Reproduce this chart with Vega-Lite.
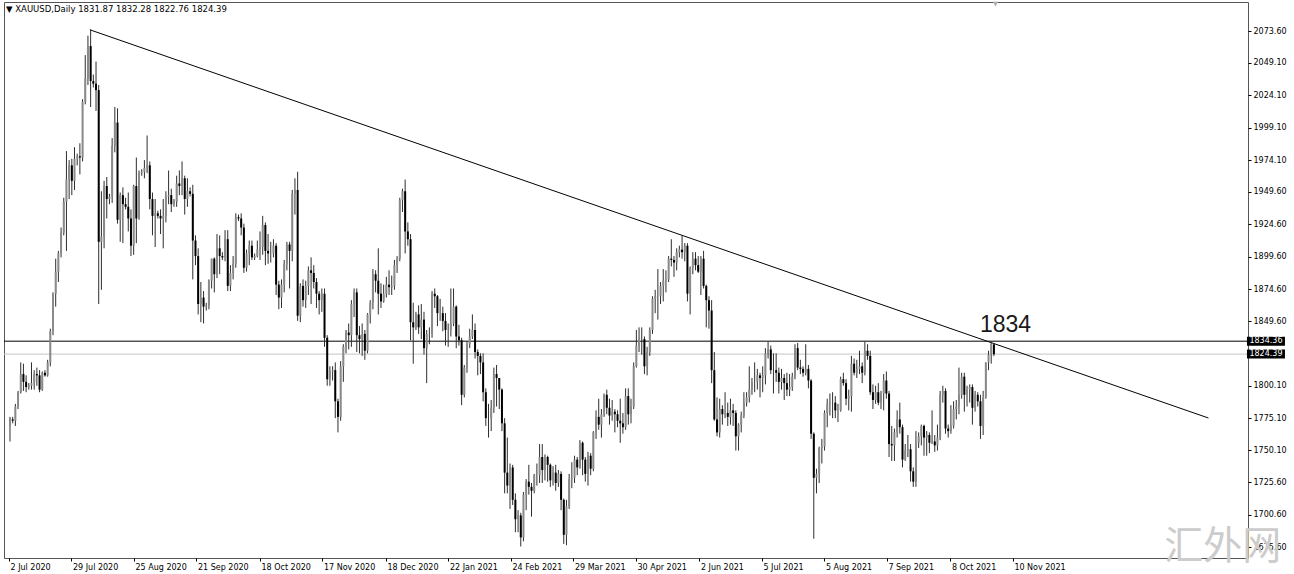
{
  "$schema": "https://vega.github.io/schema/vega-lite/v6.json",
  "width": 1244,
  "height": 556,
  "autosize": {"type": "none"},
  "padding": {"left": 4, "top": 2, "right": 46, "bottom": 16},
  "background": "white",
  "config": {"view": {"stroke": "#555555", "strokeWidth": 1}, "font": "DejaVu Sans"},
  "title": {"text": "▼ XAUUSD,Daily  1831.87 1832.28 1822.76 1824.39", "anchor": "start", "frame": "group", "orient": "top", "offset": -12, "dx": 2, "fontSize": 8.5, "fontWeight": "normal", "font": "DejaVu Sans", "color": "#000000"},
  "resolve": {"axis": {"x": "independent", "y": "independent"}},
  "datasets": {
    "bars": [
{"i":0,"o":1769,"h":1776,"l":1757,"c":1775},
{"i":1,"o":1774,"h":1776,"l":1771,"c":1773},
{"i":2,"o":1773,"h":1786,"l":1769,"c":1784},
{"i":3,"o":1784,"h":1796,"l":1782,"c":1795},
{"i":4,"o":1795,"h":1818,"l":1794,"c":1809},
{"i":5,"o":1809,"h":1817,"l":1796,"c":1803},
{"i":6,"o":1803,"h":1808,"l":1795,"c":1799},
{"i":7,"o":1799,"h":1802,"l":1797,"c":1800},
{"i":8,"o":1800,"h":1818,"l":1797,"c":1802},
{"i":9,"o":1802,"h":1812,"l":1797,"c":1809},
{"i":10,"o":1809,"h":1814,"l":1800,"c":1808},
{"i":11,"o":1808,"h":1812,"l":1795,"c":1797},
{"i":12,"o":1797,"h":1811,"l":1796,"c":1810},
{"i":13,"o":1810,"h":1812,"l":1807,"c":1808},
{"i":14,"o":1808,"h":1820,"l":1807,"c":1818},
{"i":15,"o":1818,"h":1844,"l":1815,"c":1842},
{"i":16,"o":1842,"h":1872,"l":1839,"c":1871},
{"i":17,"o":1871,"h":1898,"l":1861,"c":1888},
{"i":18,"o":1888,"h":1904,"l":1880,"c":1902},
{"i":19,"o":1902,"h":1922,"l":1899,"c":1918},
{"i":20,"o":1918,"h":1945,"l":1916,"c":1942},
{"i":21,"o":1942,"h":1981,"l":1904,"c":1959},
{"i":22,"o":1959,"h":1974,"l":1944,"c":1970},
{"i":23,"o":1970,"h":1975,"l":1947,"c":1958},
{"i":24,"o":1958,"h":1984,"l":1951,"c":1975},
{"i":25,"o":1975,"h":1979,"l":1970,"c":1977},
{"i":26,"o":1977,"h":1987,"l":1963,"c":1976},
{"i":27,"o":1976,"h":2021,"l":1973,"c":2019},
{"i":28,"o":2019,"h":2055,"l":2017,"c":2037},
{"i":29,"o":2037,"h":2070,"l":2032,"c":2062},
{"i":30,"o":2062,"h":2075,"l":2015,"c":2035},
{"i":31,"o":2035,"h":2040,"l":2030,"c":2033},
{"i":32,"o":2033,"h":2050,"l":2012,"c":2028},
{"i":33,"o":2028,"h":2032,"l":1863,"c":1911},
{"i":34,"o":1911,"h":1950,"l":1874,"c":1915},
{"i":35,"o":1915,"h":1958,"l":1906,"c":1954},
{"i":36,"o":1954,"h":1961,"l":1929,"c":1944},
{"i":37,"o":1944,"h":1948,"l":1940,"c":1946},
{"i":38,"o":1946,"h":1991,"l":1941,"c":1985},
{"i":39,"o":1985,"h":2015,"l":1980,"c":2003},
{"i":40,"o":2003,"h":2014,"l":1925,"c":1928},
{"i":41,"o":1928,"h":1949,"l":1911,"c":1947},
{"i":42,"o":1947,"h":1953,"l":1910,"c":1940},
{"i":43,"o":1940,"h":1945,"l":1936,"c":1938},
{"i":44,"o":1938,"h":1949,"l":1919,"c":1929},
{"i":45,"o":1929,"h":1936,"l":1900,"c":1908},
{"i":46,"o":1908,"h":1955,"l":1901,"c":1954},
{"i":47,"o":1954,"h":1976,"l":1910,"c":1929},
{"i":48,"o":1929,"h":1966,"l":1928,"c":1964},
{"i":49,"o":1964,"h":1967,"l":1962,"c":1965},
{"i":50,"o":1965,"h":1974,"l":1960,"c":1968},
{"i":51,"o":1968,"h":1993,"l":1964,"c":1970},
{"i":52,"o":1970,"h":1973,"l":1936,"c":1944},
{"i":53,"o":1944,"h":1949,"l":1916,"c":1931},
{"i":54,"o":1931,"h":1944,"l":1907,"c":1933},
{"i":55,"o":1933,"h":1935,"l":1929,"c":1931},
{"i":56,"o":1931,"h":1936,"l":1917,"c":1929},
{"i":57,"o":1929,"h":1944,"l":1906,"c":1931},
{"i":58,"o":1931,"h":1950,"l":1926,"c":1946},
{"i":59,"o":1946,"h":1966,"l":1940,"c":1947},
{"i":60,"o":1947,"h":1952,"l":1934,"c":1940},
{"i":61,"o":1940,"h":1944,"l":1938,"c":1942},
{"i":62,"o":1942,"h":1962,"l":1938,"c":1956},
{"i":63,"o":1956,"h":1966,"l":1947,"c":1954},
{"i":64,"o":1954,"h":1973,"l":1947,"c":1960},
{"i":65,"o":1960,"h":1962,"l":1932,"c":1944},
{"i":66,"o":1944,"h":1960,"l":1938,"c":1950},
{"i":67,"o":1950,"h":1953,"l":1946,"c":1948},
{"i":68,"o":1948,"h":1955,"l":1882,"c":1912},
{"i":69,"o":1912,"h":1916,"l":1893,"c":1900},
{"i":70,"o":1900,"h":1906,"l":1855,"c":1863},
{"i":71,"o":1863,"h":1880,"l":1849,"c":1868},
{"i":72,"o":1868,"h":1873,"l":1848,"c":1861},
{"i":73,"o":1861,"h":1864,"l":1858,"c":1862},
{"i":74,"o":1862,"h":1882,"l":1859,"c":1881},
{"i":75,"o":1881,"h":1898,"l":1875,"c":1898},
{"i":76,"o":1898,"h":1899,"l":1872,"c":1886},
{"i":77,"o":1886,"h":1917,"l":1883,"c":1906},
{"i":78,"o":1906,"h":1916,"l":1886,"c":1900},
{"i":79,"o":1900,"h":1903,"l":1897,"c":1899},
{"i":80,"o":1899,"h":1920,"l":1896,"c":1913},
{"i":81,"o":1913,"h":1920,"l":1873,"c":1877},
{"i":82,"o":1877,"h":1893,"l":1873,"c":1887},
{"i":83,"o":1887,"h":1900,"l":1882,"c":1894},
{"i":84,"o":1894,"h":1933,"l":1891,"c":1930},
{"i":85,"o":1930,"h":1932,"l":1927,"c":1929},
{"i":86,"o":1929,"h":1933,"l":1916,"c":1922},
{"i":87,"o":1922,"h":1925,"l":1887,"c":1891},
{"i":88,"o":1891,"h":1905,"l":1888,"c":1902},
{"i":89,"o":1902,"h":1912,"l":1893,"c":1908},
{"i":90,"o":1908,"h":1912,"l":1897,"c":1899},
{"i":91,"o":1899,"h":1902,"l":1897,"c":1900},
{"i":92,"o":1900,"h":1912,"l":1899,"c":1905},
{"i":93,"o":1905,"h":1919,"l":1897,"c":1907},
{"i":94,"o":1907,"h":1931,"l":1901,"c":1924},
{"i":95,"o":1924,"h":1926,"l":1893,"c":1904},
{"i":96,"o":1904,"h":1917,"l":1894,"c":1902},
{"i":97,"o":1902,"h":1911,"l":1895,"c":1902},
{"i":98,"o":1902,"h":1913,"l":1899,"c":1908},
{"i":99,"o":1908,"h":1910,"l":1870,"c":1878},
{"i":100,"o":1878,"h":1881,"l":1859,"c":1868},
{"i":101,"o":1868,"h":1882,"l":1860,"c":1878},
{"i":102,"o":1878,"h":1897,"l":1872,"c":1894},
{"i":103,"o":1894,"h":1911,"l":1889,"c":1909},
{"i":104,"o":1909,"h":1911,"l":1875,"c":1904},
{"i":105,"o":1904,"h":1951,"l":1896,"c":1948},
{"i":106,"o":1948,"h":1960,"l":1932,"c":1951},
{"i":107,"o":1951,"h":1965,"l":1850,"c":1854},
{"i":108,"o":1854,"h":1879,"l":1849,"c":1877},
{"i":109,"o":1877,"h":1882,"l":1861,"c":1866},
{"i":110,"o":1866,"h":1881,"l":1860,"c":1877},
{"i":111,"o":1877,"h":1892,"l":1870,"c":1889},
{"i":112,"o":1889,"h":1899,"l":1863,"c":1887},
{"i":113,"o":1887,"h":1893,"l":1875,"c":1880},
{"i":114,"o":1880,"h":1883,"l":1860,"c":1871},
{"i":115,"o":1871,"h":1873,"l":1855,"c":1866},
{"i":116,"o":1866,"h":1875,"l":1857,"c":1871},
{"i":117,"o":1871,"h":1875,"l":1830,"c":1837},
{"i":118,"o":1837,"h":1839,"l":1800,"c":1805},
{"i":119,"o":1805,"h":1815,"l":1800,"c":1811},
{"i":120,"o":1811,"h":1815,"l":1804,"c":1812},
{"i":121,"o":1812,"h":1818,"l":1775,"c":1788},
{"i":122,"o":1788,"h":1790,"l":1764,"c":1776},
{"i":123,"o":1776,"h":1819,"l":1773,"c":1815},
{"i":124,"o":1815,"h":1832,"l":1803,"c":1830},
{"i":125,"o":1830,"h":1843,"l":1825,"c":1841},
{"i":126,"o":1841,"h":1848,"l":1828,"c":1839},
{"i":127,"o":1839,"h":1866,"l":1830,"c":1863},
{"i":128,"o":1863,"h":1875,"l":1853,"c":1872},
{"i":129,"o":1872,"h":1875,"l":1826,"c":1839},
{"i":130,"o":1839,"h":1846,"l":1825,"c":1836},
{"i":131,"o":1836,"h":1848,"l":1823,"c":1840},
{"i":132,"o":1840,"h":1843,"l":1820,"c":1827},
{"i":133,"o":1827,"h":1856,"l":1825,"c":1855},
{"i":134,"o":1855,"h":1866,"l":1848,"c":1864},
{"i":135,"o":1864,"h":1890,"l":1859,"c":1886},
{"i":136,"o":1886,"h":1889,"l":1872,"c":1881},
{"i":137,"o":1881,"h":1906,"l":1855,"c":1871},
{"i":138,"o":1871,"h":1879,"l":1860,"c":1865},
{"i":139,"o":1865,"h":1878,"l":1864,"c":1871},
{"i":140,"o":1871,"h":1884,"l":1868,"c":1878},
{"i":141,"o":1878,"h":1889,"l":1870,"c":1876},
{"i":142,"o":1876,"h":1885,"l":1870,"c":1877},
{"i":143,"o":1877,"h":1897,"l":1874,"c":1893},
{"i":144,"o":1893,"h":1900,"l":1887,"c":1898},
{"i":145,"o":1898,"h":1945,"l":1896,"c":1943},
{"i":146,"o":1943,"h":1952,"l":1934,"c":1950},
{"i":147,"o":1950,"h":1959,"l":1902,"c":1919},
{"i":148,"o":1919,"h":1926,"l":1908,"c":1913},
{"i":149,"o":1913,"h":1917,"l":1835,"c":1849},
{"i":150,"o":1849,"h":1864,"l":1817,"c":1845},
{"i":151,"o":1845,"h":1857,"l":1843,"c":1855},
{"i":152,"o":1855,"h":1862,"l":1840,"c":1845},
{"i":153,"o":1845,"h":1863,"l":1836,"c":1851},
{"i":154,"o":1851,"h":1857,"l":1824,"c":1829},
{"i":155,"o":1829,"h":1843,"l":1802,"c":1840},
{"i":156,"o":1840,"h":1845,"l":1832,"c":1840},
{"i":157,"o":1840,"h":1873,"l":1837,"c":1871},
{"i":158,"o":1871,"h":1875,"l":1860,"c":1869},
{"i":159,"o":1869,"h":1870,"l":1846,"c":1856},
{"i":160,"o":1856,"h":1867,"l":1850,"c":1856},
{"i":161,"o":1856,"h":1861,"l":1842,"c":1850},
{"i":162,"o":1850,"h":1856,"l":1831,"c":1843},
{"i":163,"o":1843,"h":1848,"l":1830,"c":1843},
{"i":164,"o":1843,"h":1875,"l":1838,"c":1848},
{"i":165,"o":1848,"h":1875,"l":1846,"c":1861},
{"i":166,"o":1861,"h":1862,"l":1829,"c":1838},
{"i":167,"o":1838,"h":1847,"l":1831,"c":1835},
{"i":168,"o":1835,"h":1837,"l":1785,"c":1793},
{"i":169,"o":1793,"h":1816,"l":1791,"c":1814},
{"i":170,"o":1814,"h":1834,"l":1810,"c":1832},
{"i":171,"o":1832,"h":1844,"l":1829,"c":1838},
{"i":172,"o":1838,"h":1855,"l":1836,"c":1843},
{"i":173,"o":1843,"h":1848,"l":1821,"c":1826},
{"i":174,"o":1826,"h":1828,"l":1808,"c":1823},
{"i":175,"o":1823,"h":1825,"l":1809,"c":1818},
{"i":176,"o":1818,"h":1825,"l":1788,"c":1795},
{"i":177,"o":1795,"h":1798,"l":1769,"c":1775},
{"i":178,"o":1775,"h":1786,"l":1760,"c":1775},
{"i":179,"o":1775,"h":1789,"l":1765,"c":1783},
{"i":180,"o":1783,"h":1814,"l":1779,"c":1809},
{"i":181,"o":1809,"h":1816,"l":1784,"c":1806},
{"i":182,"o":1806,"h":1806,"l":1782,"c":1797},
{"i":183,"o":1797,"h":1798,"l":1765,"c":1771},
{"i":184,"o":1771,"h":1775,"l":1717,"c":1733},
{"i":185,"o":1733,"h":1760,"l":1717,"c":1723},
{"i":186,"o":1723,"h":1740,"l":1705,"c":1737},
{"i":187,"o":1737,"h":1739,"l":1708,"c":1712},
{"i":188,"o":1712,"h":1717,"l":1687,"c":1697},
{"i":189,"o":1697,"h":1704,"l":1687,"c":1700},
{"i":190,"o":1700,"h":1702,"l":1676,"c":1683},
{"i":191,"o":1683,"h":1718,"l":1680,"c":1716},
{"i":192,"o":1716,"h":1728,"l":1704,"c":1726},
{"i":193,"o":1726,"h":1739,"l":1716,"c":1722},
{"i":194,"o":1722,"h":1725,"l":1699,"c":1719},
{"i":195,"o":1719,"h":1732,"l":1717,"c":1731},
{"i":196,"o":1731,"h":1740,"l":1723,"c":1731},
{"i":197,"o":1731,"h":1755,"l":1725,"c":1745},
{"i":198,"o":1745,"h":1755,"l":1725,"c":1735},
{"i":199,"o":1735,"h":1747,"l":1727,"c":1745},
{"i":200,"o":1745,"h":1746,"l":1726,"c":1739},
{"i":201,"o":1739,"h":1740,"l":1722,"c":1727},
{"i":202,"o":1727,"h":1738,"l":1723,"c":1733},
{"i":203,"o":1733,"h":1739,"l":1719,"c":1725},
{"i":204,"o":1725,"h":1735,"l":1722,"c":1732},
{"i":205,"o":1732,"h":1734,"l":1704,"c":1712},
{"i":206,"o":1712,"h":1713,"l":1678,"c":1685},
{"i":207,"o":1685,"h":1712,"l":1677,"c":1707},
{"i":208,"o":1707,"h":1732,"l":1705,"c":1728},
{"i":209,"o":1728,"h":1741,"l":1721,"c":1729},
{"i":210,"o":1729,"h":1746,"l":1725,"c":1743},
{"i":211,"o":1743,"h":1745,"l":1731,"c":1737},
{"i":212,"o":1737,"h":1758,"l":1736,"c":1756},
{"i":213,"o":1756,"h":1757,"l":1731,"c":1743},
{"i":214,"o":1743,"h":1745,"l":1726,"c":1732},
{"i":215,"o":1732,"h":1749,"l":1723,"c":1746},
{"i":216,"o":1746,"h":1748,"l":1731,"c":1736},
{"i":217,"o":1736,"h":1765,"l":1734,"c":1764},
{"i":218,"o":1764,"h":1781,"l":1759,"c":1776},
{"i":219,"o":1776,"h":1790,"l":1766,"c":1770},
{"i":220,"o":1770,"h":1782,"l":1760,"c":1778},
{"i":221,"o":1778,"h":1794,"l":1776,"c":1793},
{"i":222,"o":1793,"h":1797,"l":1778,"c":1783},
{"i":223,"o":1783,"h":1790,"l":1770,"c":1777},
{"i":224,"o":1777,"h":1789,"l":1773,"c":1780},
{"i":225,"o":1780,"h":1782,"l":1764,"c":1778},
{"i":226,"o":1778,"h":1781,"l":1768,"c":1773},
{"i":227,"o":1773,"h":1790,"l":1756,"c":1771},
{"i":228,"o":1771,"h":1779,"l":1763,"c":1768},
{"i":229,"o":1768,"h":1798,"l":1766,"c":1792},
{"i":230,"o":1792,"h":1798,"l":1770,"c":1778},
{"i":231,"o":1778,"h":1790,"l":1771,"c":1784},
{"i":232,"o":1784,"h":1818,"l":1782,"c":1815},
{"i":233,"o":1815,"h":1843,"l":1814,"c":1831},
{"i":234,"o":1831,"h":1845,"l":1826,"c":1836},
{"i":235,"o":1836,"h":1845,"l":1824,"c":1836},
{"i":236,"o":1836,"h":1838,"l":1809,"c":1815},
{"i":237,"o":1815,"h":1830,"l":1808,"c":1826},
{"i":238,"o":1826,"h":1845,"l":1823,"c":1843},
{"i":239,"o":1843,"h":1869,"l":1840,"c":1867},
{"i":240,"o":1867,"h":1874,"l":1856,"c":1869},
{"i":241,"o":1869,"h":1890,"l":1851,"c":1869},
{"i":242,"o":1869,"h":1880,"l":1863,"c":1877},
{"i":243,"o":1877,"h":1890,"l":1865,"c":1881},
{"i":244,"o":1881,"h":1889,"l":1872,"c":1882},
{"i":245,"o":1882,"h":1900,"l":1880,"c":1898},
{"i":246,"o":1898,"h":1913,"l":1892,"c":1897},
{"i":247,"o":1897,"h":1900,"l":1884,"c":1895},
{"i":248,"o":1895,"h":1906,"l":1889,"c":1903},
{"i":249,"o":1903,"h":1908,"l":1899,"c":1905},
{"i":250,"o":1905,"h":1916,"l":1898,"c":1903},
{"i":251,"o":1903,"h":1910,"l":1896,"c":1908},
{"i":252,"o":1908,"h":1910,"l":1865,"c":1871},
{"i":253,"o":1871,"h":1892,"l":1855,"c":1891},
{"i":254,"o":1891,"h":1903,"l":1886,"c":1898},
{"i":255,"o":1898,"h":1903,"l":1889,"c":1893},
{"i":256,"o":1893,"h":1900,"l":1887,"c":1888},
{"i":257,"o":1888,"h":1900,"l":1870,"c":1898},
{"i":258,"o":1898,"h":1904,"l":1875,"c":1877},
{"i":259,"o":1877,"h":1878,"l":1845,"c":1866},
{"i":260,"o":1866,"h":1869,"l":1844,"c":1858},
{"i":261,"o":1858,"h":1866,"l":1802,"c":1812},
{"i":262,"o":1812,"h":1826,"l":1773,"c":1774},
{"i":263,"o":1774,"h":1791,"l":1761,"c":1764},
{"i":264,"o":1764,"h":1790,"l":1760,"c":1782},
{"i":265,"o":1782,"h":1785,"l":1770,"c":1778},
{"i":266,"o":1778,"h":1795,"l":1775,"c":1779},
{"i":267,"o":1779,"h":1787,"l":1769,"c":1776},
{"i":268,"o":1776,"h":1790,"l":1770,"c":1781},
{"i":269,"o":1781,"h":1786,"l":1769,"c":1779},
{"i":270,"o":1779,"h":1781,"l":1750,"c":1761},
{"i":271,"o":1761,"h":1771,"l":1750,"c":1770},
{"i":272,"o":1770,"h":1780,"l":1764,"c":1777},
{"i":273,"o":1777,"h":1795,"l":1775,"c":1787},
{"i":274,"o":1787,"h":1795,"l":1784,"c":1791},
{"i":275,"o":1791,"h":1815,"l":1787,"c":1797},
{"i":276,"o":1797,"h":1806,"l":1793,"c":1803},
{"i":277,"o":1803,"h":1818,"l":1795,"c":1803},
{"i":278,"o":1803,"h":1813,"l":1797,"c":1808},
{"i":279,"o":1808,"h":1810,"l":1791,"c":1806},
{"i":280,"o":1806,"h":1815,"l":1795,"c":1808},
{"i":281,"o":1808,"h":1829,"l":1801,"c":1825},
{"i":282,"o":1825,"h":1834,"l":1821,"c":1828},
{"i":283,"o":1828,"h":1831,"l":1809,"c":1812},
{"i":284,"o":1812,"h":1825,"l":1794,"c":1812},
{"i":285,"o":1812,"h":1825,"l":1803,"c":1810},
{"i":286,"o":1810,"h":1814,"l":1794,"c":1803},
{"i":287,"o":1803,"h":1813,"l":1797,"c":1806},
{"i":288,"o":1806,"h":1809,"l":1789,"c":1802},
{"i":289,"o":1802,"h":1810,"l":1792,"c":1797},
{"i":290,"o":1797,"h":1809,"l":1792,"c":1799},
{"i":291,"o":1799,"h":1810,"l":1796,"c":1807},
{"i":292,"o":1807,"h":1832,"l":1805,"c":1829},
{"i":293,"o":1829,"h":1833,"l":1812,"c":1814},
{"i":294,"o":1814,"h":1820,"l":1809,"c":1813},
{"i":295,"o":1813,"h":1815,"l":1807,"c":1810},
{"i":296,"o":1810,"h":1832,"l":1808,"c":1813},
{"i":297,"o":1813,"h":1816,"l":1798,"c":1804},
{"i":298,"o":1804,"h":1805,"l":1759,"c":1763},
{"i":299,"o":1763,"h":1764,"l":1682,"c":1729},
{"i":300,"o":1729,"h":1736,"l":1717,"c":1732},
{"i":301,"o":1732,"h":1753,"l":1725,"c":1752},
{"i":302,"o":1752,"h":1759,"l":1740,"c":1753},
{"i":303,"o":1753,"h":1781,"l":1750,"c":1779},
{"i":304,"o":1779,"h":1790,"l":1768,"c":1786},
{"i":305,"o":1786,"h":1794,"l":1777,"c":1787},
{"i":306,"o":1787,"h":1795,"l":1775,"c":1787},
{"i":307,"o":1787,"h":1792,"l":1775,"c":1781},
{"i":308,"o":1781,"h":1786,"l":1772,"c":1781},
{"i":309,"o":1781,"h":1807,"l":1780,"c":1805},
{"i":310,"o":1805,"h":1810,"l":1800,"c":1802},
{"i":311,"o":1802,"h":1805,"l":1785,"c":1790},
{"i":312,"o":1790,"h":1797,"l":1781,"c":1792},
{"i":313,"o":1792,"h":1823,"l":1780,"c":1817},
{"i":314,"o":1817,"h":1821,"l":1808,"c":1810},
{"i":315,"o":1810,"h":1820,"l":1806,"c":1813},
{"i":316,"o":1813,"h":1827,"l":1809,"c":1815},
{"i":317,"o":1815,"h":1818,"l":1802,"c":1810},
{"i":318,"o":1810,"h":1834,"l":1808,"c":1827},
{"i":319,"o":1827,"h":1832,"l":1820,"c":1823},
{"i":320,"o":1823,"h":1827,"l":1793,"c":1795},
{"i":321,"o":1795,"h":1801,"l":1782,"c":1789},
{"i":322,"o":1789,"h":1800,"l":1786,"c":1795},
{"i":323,"o":1795,"h":1802,"l":1785,"c":1787},
{"i":324,"o":1787,"h":1796,"l":1782,"c":1794},
{"i":325,"o":1794,"h":1809,"l":1781,"c":1804},
{"i":326,"o":1804,"h":1811,"l":1790,"c":1794},
{"i":327,"o":1794,"h":1796,"l":1745,"c":1755},
{"i":328,"o":1755,"h":1769,"l":1742,"c":1754},
{"i":329,"o":1754,"h":1767,"l":1742,"c":1764},
{"i":330,"o":1764,"h":1781,"l":1760,"c":1774},
{"i":331,"o":1774,"h":1787,"l":1763,"c":1768},
{"i":332,"o":1768,"h":1770,"l":1737,"c":1743},
{"i":333,"o":1743,"h":1755,"l":1742,"c":1750},
{"i":334,"o":1750,"h":1762,"l":1745,"c":1751},
{"i":335,"o":1751,"h":1755,"l":1726,"c":1734},
{"i":336,"o":1734,"h":1737,"l":1722,"c":1726},
{"i":337,"o":1726,"h":1765,"l":1722,"c":1756},
{"i":338,"o":1756,"h":1764,"l":1752,"c":1761},
{"i":339,"o":1761,"h":1770,"l":1754,"c":1769},
{"i":340,"o":1769,"h":1770,"l":1746,"c":1760},
{"i":341,"o":1760,"h":1765,"l":1746,"c":1762},
{"i":342,"o":1762,"h":1764,"l":1748,"c":1756},
{"i":343,"o":1756,"h":1781,"l":1755,"c":1757},
{"i":344,"o":1757,"h":1762,"l":1749,"c":1754},
{"i":345,"o":1754,"h":1770,"l":1750,"c":1760},
{"i":346,"o":1760,"h":1796,"l":1758,"c":1793},
{"i":347,"o":1793,"h":1800,"l":1787,"c":1796},
{"i":348,"o":1796,"h":1798,"l":1763,"c":1767},
{"i":349,"o":1767,"h":1770,"l":1760,"c":1765},
{"i":350,"o":1765,"h":1785,"l":1763,"c":1769},
{"i":351,"o":1769,"h":1788,"l":1767,"c":1782},
{"i":352,"o":1782,"h":1789,"l":1774,"c":1784},
{"i":353,"o":1784,"h":1814,"l":1778,"c":1793},
{"i":354,"o":1793,"h":1810,"l":1790,"c":1807},
{"i":355,"o":1807,"h":1810,"l":1780,"c":1793},
{"i":356,"o":1793,"h":1800,"l":1784,"c":1797},
{"i":357,"o":1797,"h":1801,"l":1787,"c":1799},
{"i":358,"o":1799,"h":1801,"l":1770,"c":1783},
{"i":359,"o":1783,"h":1796,"l":1780,"c":1793},
{"i":360,"o":1793,"h":1795,"l":1784,"c":1788},
{"i":361,"o":1788,"h":1793,"l":1759,"c":1769},
{"i":362,"o":1769,"h":1796,"l":1762,"c":1791},
{"i":363,"o":1791,"h":1818,"l":1790,"c":1818},
{"i":364,"o":1818,"h":1827,"l":1812,"c":1824},
{"i":365,"o":1824,"h":1834,"l":1817,"c":1832},
{"i":366,"o":1831.87,"h":1832.28,"l":1822.76,"c":1824.39}
    ],
    "trend": [{"i": 29.9, "p": 2074.4}, {"i": 445.8, "p": 1775.1}]
  },
  "layer": [
    {
      "data": {"values": [{"p": 1824.39}]},
      "mark": {"type": "rule", "color": "#c4c4c4", "strokeWidth": 1},
      "encoding": {
        "y": {"field": "p", "type": "quantitative", "scale": {"domain": [1667.13, 2095.97], "nice": false, "zero": false}, "axis": null}
      }
    },
    {
      "data": {"values": [{"p": 1834.36}]},
      "mark": {"type": "rule", "color": "#000000", "strokeWidth": 1},
      "encoding": {
        "y": {"field": "p", "type": "quantitative", "scale": {"domain": [1667.13, 2095.97], "nice": false, "zero": false}, "axis": null}
      }
    },
    {
      "data": {"name": "trend"},
      "mark": {"type": "line", "color": "#000000", "strokeWidth": 1},
      "encoding": {
        "x": {"field": "i", "type": "quantitative", "scale": {"domain": [-0.369, 458.66], "nice": false, "zero": false}, "axis": null},
        "y": {"field": "p", "type": "quantitative", "scale": {"domain": [1667.13, 2095.97], "nice": false, "zero": false}, "axis": null}
      }
    },
    {
      "data": {"name": "bars"},
      "mark": {"type": "rule", "color": "#2e2e2e", "strokeWidth": 1},
      "encoding": {
        "x": {"field": "i", "type": "quantitative", "scale": {"domain": [-0.369, 458.66], "nice": false, "zero": false},
          "axis": {"orient": "bottom", "title": null, "grid": false, "domain": false,
            "values": [-0.369, 22.88, 46.13, 69.37, 92.99, 116.24, 139.85, 163.10, 186.35, 209.60, 232.84, 256.46, 279.70, 302.95, 326.20, 349.82, 373.06],
            "labelExpr": "['2 Jul 2020','29 Jul 2020','25 Aug 2020','21 Sep 2020','18 Oct 2020','17 Nov 2020','18 Dec 2020','22 Jan 2021','24 Feb 2021','29 Mar 2021','30 Apr 2021','2 Jun 2021','5 Jul 2021','5 Aug 2021','7 Sep 2021','8 Oct 2021','10 Nov 2021'][round((datum.value+0.369)*2.71/63.25)]",
            "labelAlign": "left", "labelFlush": false, "labelOverlap": false, "labelOffset": 1,
            "tickSize": 3, "tickColor": "#000000", "labelPadding": 2, "labelFontSize": 8, "labelFont": "DejaVu Sans", "labelColor": "#000000"}},
        "y": {"field": "l", "type": "quantitative", "scale": {"domain": [1667.13, 2095.97], "nice": false, "zero": false},
          "axis": {"orient": "right", "title": null, "grid": false, "domain": false,
            "values": [2073.6, 2049.1, 2024.1, 1999.1, 1974.1, 1949.6, 1924.6, 1899.6, 1874.6, 1849.6, 1800.1, 1775.1, 1750.1, 1725.6, 1700.6, 1675.6],
            "format": ".2f", "labelFlush": false, "labelOverlap": false,
            "tickSize": 3, "tickColor": "#000000", "labelPadding": 2, "labelFontSize": 8, "labelFont": "DejaVu Sans", "labelColor": "#000000"}},
        "y2": {"field": "h"}
      }
    },
    {
      "data": {"name": "bars"},
      "mark": {"type": "bar", "size": 2},
      "encoding": {
        "x": {"field": "i", "type": "quantitative", "scale": {"domain": [-0.369, 458.66], "nice": false, "zero": false}, "axis": null},
        "y": {"field": "o", "type": "quantitative", "scale": {"domain": [1667.13, 2095.97], "nice": false, "zero": false}, "axis": null},
        "y2": {"field": "c"},
        "color": {"condition": {"test": "datum.c >= datum.o", "value": "#8a8a8a"}, "value": "#000000"}
      }
    },
    {
      "data": {"values": [{"p": 1834.36, "t": "1834.36"}, {"p": 1824.39, "t": "1824.39"}]},
      "mark": {"type": "tick", "orient": "horizontal", "size": 38, "thickness": 9, "color": "#000000", "opacity": 1},
      "encoding": {
        "x": {"datum": 467.2, "type": "quantitative", "scale": {"domain": [-0.369, 458.66], "nice": false, "zero": false}, "axis": null},
        "y": {"field": "p", "type": "quantitative", "scale": {"domain": [1667.13, 2095.97], "nice": false, "zero": false}, "axis": null}
      }
    },
    {
      "data": {"values": [{"p": 1834.36, "t": "1834.36"}, {"p": 1824.39, "t": "1824.39"}]},
      "mark": {"type": "text", "color": "#ffffff", "fontSize": 8, "font": "DejaVu Sans", "align": "center", "baseline": "middle"},
      "encoding": {
        "x": {"datum": 467.2, "type": "quantitative", "scale": {"domain": [-0.369, 458.66], "nice": false, "zero": false}, "axis": null},
        "y": {"field": "p", "type": "quantitative", "scale": {"domain": [1667.13, 2095.97], "nice": false, "zero": false}, "axis": null},
        "text": {"field": "t"}
      }
    },
    {
      "data": {"values": [{"i": 370.3, "p": 1841.4, "t": "1834"}]},
      "mark": {"type": "text", "color": "#1a1a1a", "fontSize": 23, "font": "Liberation Sans", "align": "center", "baseline": "alphabetic"},
      "encoding": {
        "x": {"field": "i", "type": "quantitative", "scale": {"domain": [-0.369, 458.66], "nice": false, "zero": false}, "axis": null},
        "y": {"field": "p", "type": "quantitative", "scale": {"domain": [1667.13, 2095.97], "nice": false, "zero": false}, "axis": null},
        "text": {"field": "t"}
      }
    },
    {
      "data": {"values": [{"i": 451.1, "p": 1675.4, "t": "汇外网"}]},
      "mark": {"type": "text", "color": "#cccccc", "fontSize": 39, "font": "Noto Sans CJK SC", "align": "center", "baseline": "middle"},
      "encoding": {
        "x": {"field": "i", "type": "quantitative", "scale": {"domain": [-0.369, 458.66], "nice": false, "zero": false}, "axis": null},
        "y": {"field": "p", "type": "quantitative", "scale": {"domain": [1667.13, 2095.97], "nice": false, "zero": false}, "axis": null},
        "text": {"field": "t"}
      }
    },
    {
      "data": {"values": [{"i": 366.6, "p": 2094.4}]},
      "mark": {"type": "point", "shape": "triangle-down", "filled": true, "color": "#b0b0b0", "size": 30, "opacity": 1},
      "encoding": {
        "x": {"field": "i", "type": "quantitative", "scale": {"domain": [-0.369, 458.66], "nice": false, "zero": false}, "axis": null},
        "y": {"field": "p", "type": "quantitative", "scale": {"domain": [1667.13, 2095.97], "nice": false, "zero": false}, "axis": null}
      }
    }
  ]
}
